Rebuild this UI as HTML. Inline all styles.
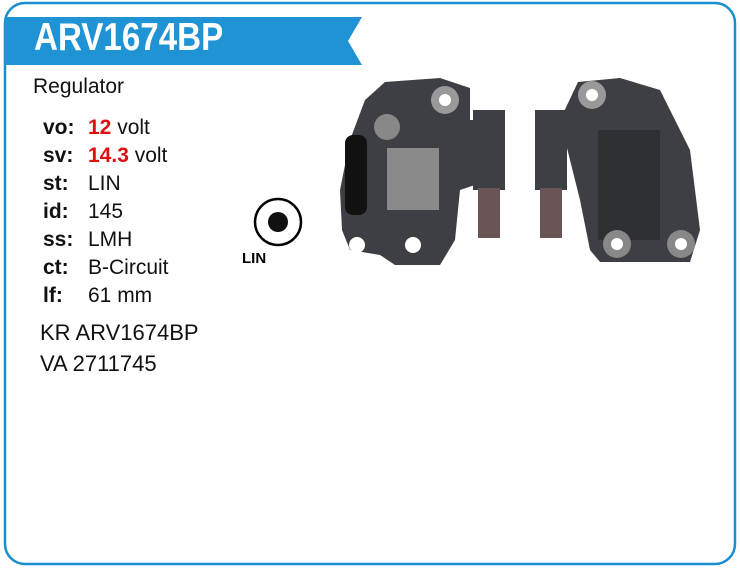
<!DOCTYPE html>
<html><head><style>
body{margin:0;width:740px;height:576px;background:#fff;position:relative;font-family:"Liberation Sans",sans-serif;overflow:hidden}
.t{position:absolute;font-size:21px;color:#111;white-space:nowrap;line-height:22px}
.k{font-weight:bold}
.r{color:#e01010;font-weight:bold}
</style></head><body>
<svg width="740" height="576" style="position:absolute;left:0;top:0">
<rect x="5" y="3" width="730" height="561" rx="20" fill="none" stroke="#1a8fd0" stroke-width="2.5"/>
<polygon points="5,17 362,17 348,41 362,65 5,65" fill="#1f93d3"/>
<g fill="#3d3f44">
<path d="M385,82 L440,78 L470,88 L470,120 L490,120 L490,180 L460,190 L455,240 L440,265 L395,265 L380,255 L350,250 L342,230 L340,190 L350,140 L365,100 Z"/>
<rect x="473" y="110" width="32" height="80"/>
<rect x="478" y="188" width="22" height="50" fill="#6a5556"/>
<path d="M578,82 L620,78 L660,90 L690,150 L700,230 L690,262 L600,262 L590,250 L580,200 L570,160 L560,120 Z"/>
<rect x="535" y="110" width="32" height="80"/>
<rect x="540" y="188" width="22" height="50" fill="#6a5556"/>
</g>
<rect x="387" y="148" width="52" height="62" fill="#8a8a8a"/>
<rect x="598" y="130" width="62" height="110" fill="#2e3034"/>
<circle cx="445" cy="100" r="14" fill="#999"/><circle cx="445" cy="100" r="6" fill="#fff"/>
<circle cx="592" cy="95" r="14" fill="#999"/><circle cx="592" cy="95" r="6" fill="#fff"/>
<circle cx="387" cy="127" r="13" fill="#888"/>
<circle cx="681" cy="244" r="14" fill="#888"/><circle cx="681" cy="244" r="6" fill="#fff"/>
<circle cx="617" cy="244" r="14" fill="#888"/><circle cx="617" cy="244" r="6" fill="#fff"/>
<circle cx="357" cy="245" r="8" fill="#fff"/><circle cx="413" cy="245" r="8" fill="#fff"/>
<rect x="345" y="135" width="22" height="80" rx="8" fill="#111"/>
<circle cx="278" cy="222" r="23" fill="none" stroke="#000" stroke-width="2.5"/>
<circle cx="278" cy="222" r="10" fill="#111"/>
</svg>
<div style="position:absolute;left:34px;top:16px;font-size:39px;font-weight:bold;color:#fff;transform:scaleX(0.85);transform-origin:0 0">ARV1674BP</div>
<div class="t" style="left:33px;top:76px">Regulator</div>
<div class="t" style="left:43px;top:117px"><span class="k">vo:</span></div><div class="t" style="left:88px;top:117px"><span class="r">12</span> volt</div>
<div class="t" style="left:43px;top:145px"><span class="k">sv:</span></div><div class="t" style="left:88px;top:145px"><span class="r">14.3</span> volt</div>
<div class="t" style="left:43px;top:173px"><span class="k">st:</span></div><div class="t" style="left:88px;top:173px">LIN</div>
<div class="t" style="left:43px;top:201px"><span class="k">id:</span></div><div class="t" style="left:88px;top:201px">145</div>
<div class="t" style="left:43px;top:229px"><span class="k">ss:</span></div><div class="t" style="left:88px;top:229px">LMH</div>
<div class="t" style="left:43px;top:257px"><span class="k">ct:</span></div><div class="t" style="left:88px;top:257px">B-Circuit</div>
<div class="t" style="left:43px;top:285px"><span class="k">lf:</span></div><div class="t" style="left:88px;top:285px">61 mm</div>
<div class="t" style="left:40px;top:322px;font-size:22px">KR ARV1674BP</div>
<div class="t" style="left:40px;top:353px;font-size:22px">VA 2711745</div>
<div style="position:absolute;left:242px;top:250px;font-size:15px;font-weight:bold">LIN</div>
</body></html>
